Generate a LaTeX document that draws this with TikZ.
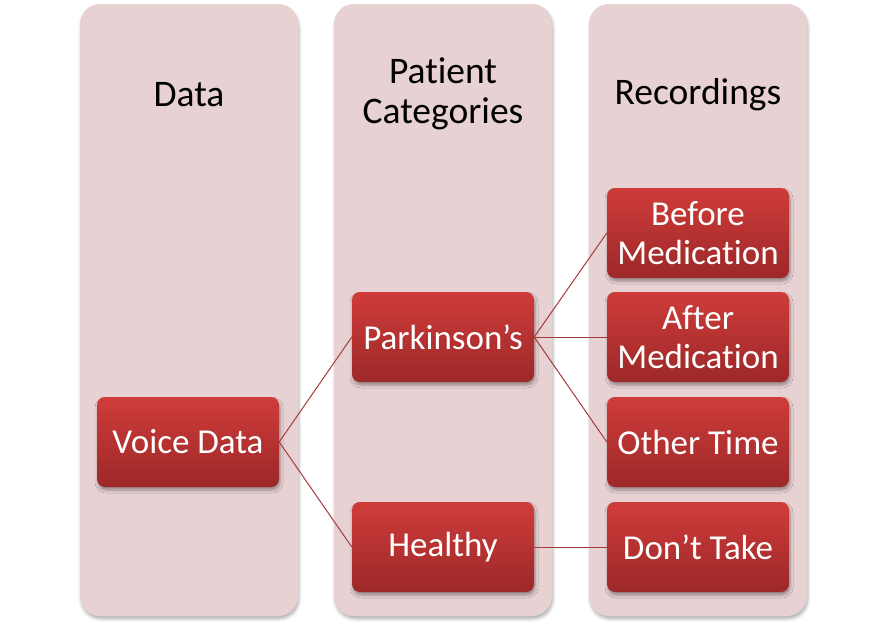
\documentclass[tikz,border=0pt]{standalone}
\usepackage{fontspec}
\setmainfont{Carlito}[RawFeature={-liga;-clig;-calt;-rlig}]
\usepackage{tikz}
\usetikzlibrary{
    positioning,
    shadows,
    shadows.blur
}
\definecolor{laneRose}{RGB}{231, 209, 210}
\definecolor{boxTop}{RGB}{207, 60, 58}
\definecolor{boxBottom}{RGB}{156, 40, 40}
\definecolor{linkRed}{RGB}{165, 60, 60}

\begin{document}
\begin{tikzpicture}[x=1pt, y=-1pt,
        lane/.style={fill=laneRose, rounded corners=20pt,
            blur shadow={shadow xshift=1pt, shadow yshift=-3pt, shadow blur radius=3pt, shadow opacity=30}},
        head/.style={align=center, font=\fontsize{37.5}{40}\selectfont},
        item/.style={minimum width=182pt, minimum height=90pt, rounded corners=8pt,
            top color=boxTop, bottom color=boxBottom, text=white, align=center,
            inner sep=0pt, font=\fontsize{35}{39}\selectfont,
            blur shadow={shadow xshift=1pt, shadow yshift=-3pt, shadow blur radius=3pt, shadow opacity=35}},
        link/.style={draw=linkRed, line width=1pt}]
        \useasboundingbox (0,0) rectangle (887,629);

        % 背景の列
        \fill[lane] (80,4) rectangle (298,616);
        \fill[lane] (334,4) rectangle (552,616);
        \fill[lane] (589,4) rectangle (807,616);

        % 見出し
        \node[head] (hData) at (189,95) {Data};
        \node[head] (hCat) at (443,94) {Patient\\Categories};
        \node[head] (hRec) at (698,95) {Recordings};

        % 項目
        \node[item] (voice) at (188,442) {Voice Data};
        \node[item] (park) at (443,337) {Parkinson’s};
        \node[item] (healthy) at (443,547) {Healthy};
        \node[item] (before) at (698,233) {Before\\Medication};
        \node[item] (after) at (698,337) {After\\Medication};
        \node[item] (other) at (698,442) {Other Time};
        \node[item] (dont) at (698,547) {Don’t Take};

        % 接続線
        \draw[link] (voice.east) -- (park.west);
        \draw[link] (voice.east) -- (healthy.west);
        \foreach \n in {before, after, other} {
            \draw[link] (park.east) -- (\n.west);
        }
        \draw[link] (healthy.east) -- (dont.west);
    \end{tikzpicture}
\end{document}
